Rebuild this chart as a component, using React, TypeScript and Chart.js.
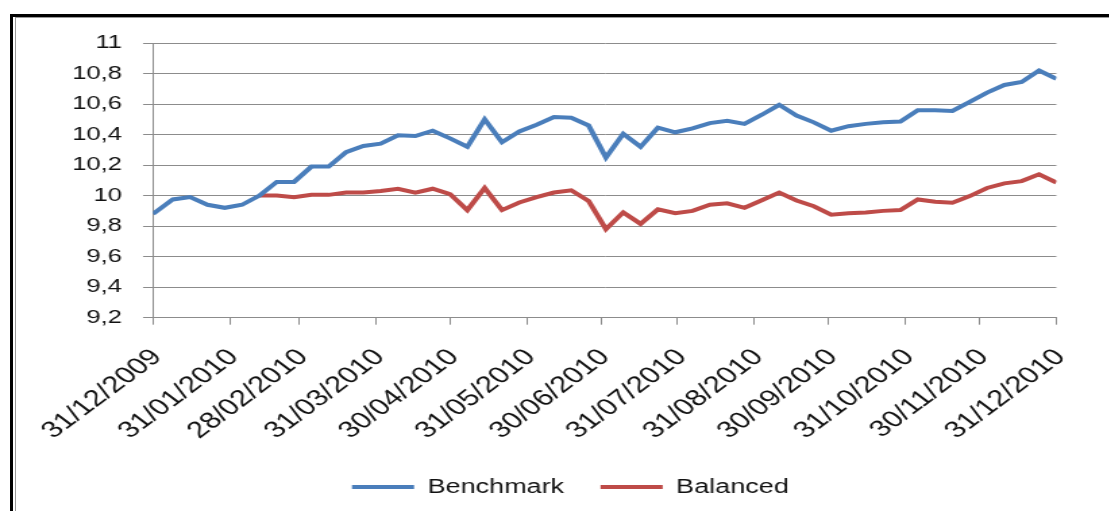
import React, { useEffect, useRef } from "react";
import { Chart, registerables } from "chart.js";

Chart.register(...registerables);

// ---- data ----
const dates = [
  "2009-12-31", "2010-01-08", "2010-01-15", "2010-01-22", "2010-01-29",
  "2010-02-05", "2010-02-12", "2010-02-19", "2010-02-26", "2010-03-05",
  "2010-03-12", "2010-03-19", "2010-03-26", "2010-04-02", "2010-04-09",
  "2010-04-16", "2010-04-23", "2010-04-30", "2010-05-07", "2010-05-14",
  "2010-05-21", "2010-05-28", "2010-06-04", "2010-06-11", "2010-06-18",
  "2010-06-25", "2010-07-02", "2010-07-09", "2010-07-16", "2010-07-23",
  "2010-07-30", "2010-08-06", "2010-08-13", "2010-08-20", "2010-08-27",
  "2010-09-03", "2010-09-10", "2010-09-17", "2010-09-24", "2010-10-01",
  "2010-10-08", "2010-10-15", "2010-10-22", "2010-10-29", "2010-11-05",
  "2010-11-12", "2010-11-19", "2010-11-26", "2010-12-03", "2010-12-10",
  "2010-12-17", "2010-12-24", "2010-12-31",
];

const benchmark = [
  9.88, 9.975, 9.99, 9.94, 9.92, 9.94, 10.0, 10.09, 10.09, 10.19,
  10.19, 10.285, 10.325, 10.34, 10.395, 10.39, 10.425, 10.375, 10.32, 10.5,
  10.35, 10.42, 10.465, 10.515, 10.51, 10.46, 10.25, 10.405, 10.32, 10.445,
  10.415, 10.44, 10.475, 10.49, 10.47, 10.53, 10.595, 10.525, 10.48, 10.425,
  10.455, 10.47, 10.48, 10.485, 10.56, 10.56, 10.555, 10.615, 10.675, 10.725,
  10.745, 10.82, 10.765,
];

const balanced = [
  null, null, null, null, null, null, 10.0, 10.0, 9.99, 10.005,
  10.005, 10.02, 10.02, 10.03, 10.045, 10.02, 10.045, 10.01, 9.905, 10.05,
  9.905, 9.955, 9.99, 10.02, 10.035, 9.965, 9.78, 9.89, 9.815, 9.91,
  9.885, 9.9, 9.94, 9.95, 9.92, 9.97, 10.02, 9.968, 9.93, 9.875,
  9.885, 9.89, 9.9, 9.905, 9.975, 9.96, 9.953, 9.997, 10.05, 10.08,
  10.095, 10.14, 10.085,
];

const seriesNames = ["Benchmark", "Balanced"];
const seriesColors = ["#4A7EBB", "#BE4B48"];

const xTickLabels = [
  "31/12/2009", "31/01/2010", "28/02/2010", "31/03/2010", "30/04/2010",
  "31/05/2010", "30/06/2010", "31/07/2010", "31/08/2010", "30/09/2010",
  "31/10/2010", "30/11/2010", "31/12/2010",
];

const yMin = 9.2;
const yMax = 11;
const yStep = 0.2;

// ---- helpers ----
const ORIGIN = Date.UTC(2009, 11, 31);
const DAY = 86400000;
const dayOfIso = (s: string) => {
  const [y, m, d] = s.split("-").map(Number);
  return (Date.UTC(y, m - 1, d) - ORIGIN) / DAY;
};
const dayOfLabel = (s: string) => {
  const [d, m, y] = s.split("/").map(Number);
  return (Date.UTC(y, m - 1, d) - ORIGIN) / DAY;
};
const xTickDays = xTickLabels.map(dayOfLabel);

const STRETCH = 1.35;
const PAGE_W = 1109;
const PAGE_H = 511;
const CW = Math.round(PAGE_W / STRETCH);
const CH = PAGE_H;
const FONT = "'Liberation Sans', Arial, sans-serif";
const GRID = "#8c8c8c";
const LEGEND_SHIFT = 31;

export default function App() {
  const ref = useRef<HTMLCanvasElement | null>(null);

  useEffect(() => {
    if (!ref.current) return;
    const mk = (vals: (number | null)[]) =>
      vals.map((v, i) => ({ x: dayOfIso(dates[i]), y: v }));

    const legendShift = {
      id: "legendShift",
      afterLayout(c: any) {
        if (c.legend) {
          c.legend.left += LEGEND_SHIFT;
          c.legend.right += LEGEND_SHIFT;
        }
      },
    };

    const chart = new Chart(ref.current, {
      type: "line",
      data: {
        datasets: [
          {
            label: seriesNames[0],
            data: mk(benchmark),
            borderColor: seriesColors[0],
            backgroundColor: seriesColors[0],
            borderWidth: 4,
            pointRadius: 0,
            tension: 0,
          },
          {
            label: seriesNames[1],
            data: mk(balanced),
            borderColor: seriesColors[1],
            backgroundColor: seriesColors[1],
            borderWidth: 4,
            pointRadius: 0,
            tension: 0,
            spanGaps: false,
          },
        ],
      },
      options: {
        animation: false,
        responsive: false,
        devicePixelRatio: 1,
        layout: { padding: { left: 0, top: 43, right: CW - 1057 / STRETCH, bottom: 4 } },
        scales: {
          x: {
            type: "linear",
            min: 0,
            max: xTickDays[xTickDays.length - 1],
            afterBuildTicks: (scale: any) => {
              scale.ticks = xTickDays.map((v) => ({ value: v }));
            },
            afterFit: (scale: any) => {
              scale.height = 132.3;
            },
            grid: {
              display: true,
              drawOnChartArea: false,
              drawTicks: true,
              tickLength: 7,
              color: GRID,
            },
            border: { display: true, color: GRID, width: 1 },
            ticks: {
              autoSkip: false,
              minRotation: 45,
              maxRotation: 45,
              padding: 19,
              labelOffset: 3,
              color: "#111",
              font: { family: FONT, size: 23 },
              callback: (_v: any, i: number) => xTickLabels[i],
            },
          },
          y: {
            min: yMin,
            max: yMax,
            afterFit: (scale: any) => {
              scale.width = 153 / STRETCH;
            },
            grid: {
              color: GRID,
              lineWidth: 1,
              drawTicks: true,
              tickLength: 7.4,
            },
            border: { display: true, color: GRID, width: 1 },
            ticks: {
              stepSize: yStep,
              padding: 15.5,
              color: "#111",
              font: { family: FONT, size: 19 },
              callback: (v: any) => String(Math.round(Number(v) * 10) / 10).replace(".", ","),
            },
          },
        },
        plugins: {
          legend: {
            display: true,
            position: "bottom",
            labels: {
              boxWidth: 46,
              boxHeight: 4,
              padding: 27,
              color: "#111",
              font: { family: FONT, size: 20 },
              generateLabels: (c: any) =>
                Chart.defaults.plugins.legend.labels
                  .generateLabels(c)
                  .map((l: any) => ({ ...l, lineWidth: 0, fillStyle: l.strokeStyle })),
            },
          },
          tooltip: { enabled: false },
        },
      },
      plugins: [legendShift],
    } as any);
    return () => chart.destroy();
  }, []);

  return (
    <div style={{ position: "fixed", left: 0, top: 0, width: PAGE_W, height: PAGE_H, overflow: "hidden", background: "#fff" }}>
      <div
        style={{
          position: "absolute",
          left: 10,
          top: 14,
          width: 1200,
          height: 600,
          border: "3px solid #000",
          boxSizing: "border-box",
        }}
      />
      <div
        style={{
          position: "absolute",
          left: 15,
          top: 17,
          width: 1200,
          height: 600,
          borderLeft: "1px solid #999",
          borderTop: "1px solid #999",
        }}
      />
      <div
        style={{
          position: "absolute",
          left: 0,
          top: 0,
          width: CW,
          height: CH,
          transform: `scaleX(${STRETCH})`,
          transformOrigin: "0 0",
        }}
      >
        <canvas ref={ref} width={CW} height={CH} style={{ width: CW, height: CH, display: "block" }} />
      </div>
    </div>
  );
}
